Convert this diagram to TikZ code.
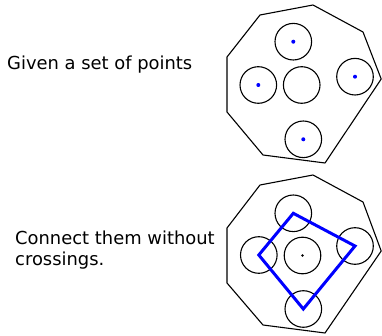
\documentclass[tikz,border=0pt]{standalone}
\usepackage{fontspec}
\setmainfont{DejaVu Sans}
\begin{document}
\begin{tikzpicture}[x=1pt,y=-1pt,
  hole/.style={circle,draw=black,line width=1.1pt,minimum size=36.6pt,inner sep=0pt},
  outline/.style={draw=black,line width=1.1pt,line join=round},
  bluedot/.style={fill=blue,circle,inner sep=0pt,minimum size=4pt},
  blackdot/.style={fill=black,circle,inner sep=0pt,minimum size=2.8pt},
  link/.style={draw=blue,line width=3pt,line join=miter},
  lbl/.style={font=\fontsize{17.9}{21}\selectfont,inner sep=0pt,anchor=base west,align=left}]
\useasboundingbox (0,0) rectangle (382,336);

% top figure
\draw[outline] (260,15) -- (313,5) -- (363,32) -- (381.2,79) -- (325,163) -- (263,155) -- (227,112) -- (227,57) -- cycle;
\node[hole] (t1) at (293.3,41.7) {};
\node[hole] (t2) at (258.3,85) {};
\node[hole] (t3) at (301.7,85) {};
\node[hole] (t4) at (355,76.7) {};
\node[hole] (t5) at (303.3,139.3) {};
\node[bluedot] (d1) at (t1.center) {};
\node[bluedot] (d2) at (t2.center) {};
\node[bluedot] (d4) at (t4.center) {};
\node[bluedot] (d5) at (t5.center) {};

% bottom figure
\draw[outline] (260,185) -- (313,175) -- (363,202) -- (381.2,251) -- (325,333) -- (263,325) -- (227,283) -- (227,228) -- cycle;
\node[hole] (b1) at (293.3,213.3) {};
\node[hole] (b2) at (258.8,255) {};
\node[hole] (b3) at (302.5,255.5) {};
\node[hole] (b4) at (355,246) {};
\node[hole] (b5) at (303.3,309) {};
\node[blackdot] (c3) at (b3.center) {};
\draw[link] (b1.center) -- (b4.center) -- (b5.center) -- (b2.center) -- cycle;

% labels
\node[lbl] (l1) at (7,69.5) {Given a set of points};
\node[lbl] (l2) at (15,265.7) {Connect them without\\crossings.};
\end{tikzpicture}
\end{document}
